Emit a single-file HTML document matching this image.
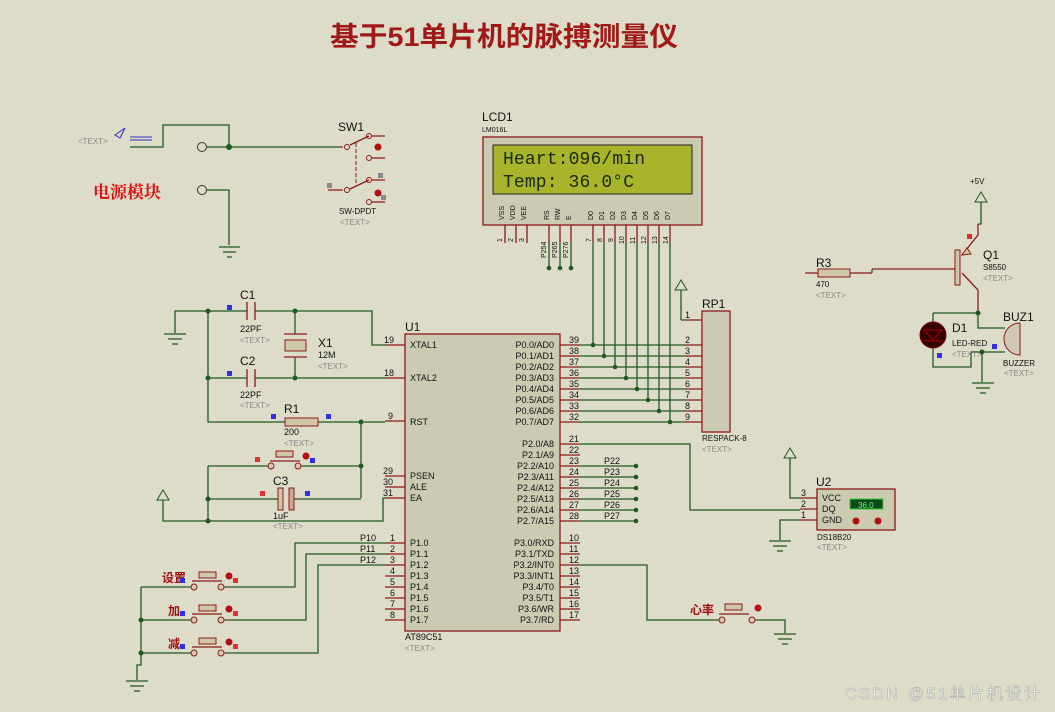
<!DOCTYPE html>
<html><head><meta charset="utf-8"><style>
html,body{margin:0;padding:0;background:#dcdcc9;}
svg{display:block;font-family:"Liberation Sans","Noto Sans CJK SC",sans-serif;}
.w{stroke:#1f5a1f;stroke-width:1.3;fill:none}
.p{stroke:#8b1a1a;stroke-width:1.3;fill:none}
.t{font-size:9px;fill:#111}
.g{font-size:8px;fill:#888}
.d{fill:#1f5a1f}
.rs{fill:#e03030}.bs{fill:#3030e0}
</style></head><body>
<svg width="1055" height="712" viewBox="0 0 1055 712">
<rect width="1055" height="712" fill="#dcdcc9"/>
<text x="330" y="46" font-size="27" font-weight="bold" fill="#a01818" font-family="'Liberation Sans','Noto Sans CJK SC',sans-serif" textLength="348" lengthAdjust="spacingAndGlyphs">基于51单片机的脉搏测量仪</text>

<!-- power -->
<text x="78" y="144" class="g">&lt;TEXT&gt;</text>
<path d="M115,135 L125,128 L120,138 Z M130,140 L152,140 M130,137 L152,137" stroke="#3030c0" fill="none"/>
<path class="w" d="M130,147 H163 V125 H229 V147 M207,147 H340 M207,190 H229 V245"/>
<circle cx="202" cy="147" r="4.5" fill="none" stroke="#333"/><circle cx="202" cy="190" r="4.5" fill="none" stroke="#333"/>
<circle cx="229" cy="147" r="3" class="d"/>
<path class="w" d="M219,247 H240 M223,252 H236 M227,257 H232"/>
<text x="93" y="198" font-size="17" font-weight="bold" fill="#e01010" font-family="'Noto Serif CJK SC',serif">电源模块</text>
<!-- SW1 -->
<text x="338" y="131" font-size="12" fill="#111">SW1</text>
<path class="p" d="M340,147 H343 M350,145 L369,136 M372,136 H385 M372,158 H385 M328,190 H343 M350,189 L369,180 M372,180 H385 M372,202 H385"/>
<circle cx="347" cy="147" r="2.5" fill="none" stroke="#8b1a1a"/><circle cx="369" cy="136" r="2.5" fill="none" stroke="#8b1a1a"/><circle cx="369" cy="158" r="2.5" fill="none" stroke="#8b1a1a"/>
<circle cx="347" cy="190" r="2.5" fill="none" stroke="#8b1a1a"/><circle cx="369" cy="180" r="2.5" fill="none" stroke="#8b1a1a"/><circle cx="369" cy="202" r="2.5" fill="none" stroke="#8b1a1a"/>
<path d="M356,143 V185" stroke="#8b1a1a" stroke-dasharray="4,2"/>
<circle cx="378" cy="147" r="3.5" fill="#b01010"/><circle cx="378" cy="193" r="3.5" fill="#b01010"/>
<rect x="378" y="173" width="5" height="5" fill="#888"/><rect x="327" y="183" width="5" height="5" fill="#888"/><rect x="381" y="195" width="5" height="5" fill="#888"/>
<text x="339" y="214" font-size="8" fill="#111">SW-DPDT</text><text x="340" y="225" class="g">&lt;TEXT&gt;</text>

<!-- crystal area -->
<path class="w" d="M175,333 V311 H247 M255,311 H372 V345 H385 M208,311 V422 H285 M318,422 H385 M208,378 H247 M255,378 H385 M295,311 V334 M295,357 V378 M361,422 V498 M208,466 H270 M299,466 H361 M208,499 H278 M294,499 H361 M163,500 V521 H383 V498 H385 M208,466 V521"/>
<path class="w" d="M164,334 H186 M168,339 H182 M172,344 H178"/>
<path d="M163,490 L157,500 H169 Z" fill="none" stroke="#1f5a1f"/>
<circle cx="208" cy="311" r="2.5" class="d"/><circle cx="208" cy="378" r="2.5" class="d"/><circle cx="295" cy="311" r="2.5" class="d"/><circle cx="295" cy="378" r="2.5" class="d"/><circle cx="361" cy="422" r="2.5" class="d"/><circle cx="361" cy="466" r="2.5" class="d"/><circle cx="208" cy="499" r="2.5" class="d"/><circle cx="208" cy="521" r="2.5" class="d"/>
<path class="p" d="M247,302 V320 M255,302 V320 M247,369 V387 M255,369 V387 M284,334 H307 M284,357 H307"/>
<rect x="285" y="340" width="21" height="11" fill="#cfc7a8" stroke="#8b1a1a"/>
<rect x="285" y="418" width="33" height="8" fill="#cfc7a8" stroke="#8b1a1a"/>
<rect x="278" y="488" width="5" height="22" fill="#cfc7a8" stroke="#8b1a1a"/><rect x="289" y="488" width="5" height="22" fill="#cfa898" stroke="#8b1a1a"/>
<rect x="276" y="451" width="17" height="6" fill="#cfc7a8" stroke="#8b1a1a"/><path class="p" d="M270,461 H300"/>
<circle cx="271" cy="466" r="3" fill="#d8c8b0" stroke="#8b1a1a"/><circle cx="298" cy="466" r="3" fill="#d8c8b0" stroke="#8b1a1a"/><circle cx="306" cy="456" r="3.5" fill="#b01010"/>
<text x="240" y="299" font-size="12" fill="#111">C1</text><text x="240" y="332" class="t">22PF</text><text x="240" y="343" class="g">&lt;TEXT&gt;</text>
<text x="240" y="365" font-size="12" fill="#111">C2</text><text x="240" y="398" class="t">22PF</text><text x="240" y="408" class="g">&lt;TEXT&gt;</text>
<text x="318" y="347" font-size="12" fill="#111">X1</text><text x="318" y="358" class="t">12M</text><text x="318" y="369" class="g">&lt;TEXT&gt;</text>
<text x="284" y="413" font-size="12" fill="#111">R1</text><text x="284" y="435" class="t">200</text><text x="284" y="446" class="g">&lt;TEXT&gt;</text>
<text x="273" y="485" font-size="12" fill="#111">C3</text><text x="273" y="519" class="t">1uF</text><text x="273" y="529" class="g">&lt;TEXT&gt;</text>
<rect x="227" y="305" width="5" height="5" class="bs"/><rect x="227" y="371" width="5" height="5" class="bs"/><rect x="271" y="414" width="5" height="5" class="bs"/><rect x="326" y="414" width="5" height="5" class="bs"/><rect x="255" y="457" width="5" height="5" class="rs"/><rect x="310" y="458" width="5" height="5" class="bs"/><rect x="260" y="491" width="5" height="5" class="rs"/><rect x="305" y="491" width="5" height="5" class="bs"/>

<!-- U1 -->
<rect x="405" y="334" width="155" height="297" fill="#cccbb2" stroke="#8b1a1a" stroke-width="1.3"/>
<text x="405" y="331" font-size="12" fill="#111">U1</text>
<text x="405" y="640" class="t">AT89C51</text><text x="405" y="651" class="g">&lt;TEXT&gt;</text>
<path class="p" d="M385,345H405M385,378H405M385,421H405M385,476H405M385,487H405M385,498H405M385,543H405M385,554H405M385,565H405M385,576H405M385,587H405M385,598H405M385,609H405M385,620H405
M560,345H580M560,356H580M560,367H580M560,378H580M560,389H580M560,400H580M560,411H580M560,422H580M560,444H580M560,455H580M560,466H580M560,477H580M560,488H580M560,499H580M560,510H580M560,521H580M560,543H580M560,554H580M560,565H580M560,576H580M560,587H580M560,598H580M560,609H580M560,620H580"/>
<g class="t">
<text x="384" y="343">19</text><text x="384" y="376">18</text><text x="388" y="419">9</text><text x="383" y="474">29</text><text x="383" y="485">30</text><text x="383" y="496">31</text>
<text x="390" y="541">1</text><text x="390" y="552">2</text><text x="390" y="563">3</text><text x="390" y="574">4</text><text x="390" y="585">5</text><text x="390" y="596">6</text><text x="390" y="607">7</text><text x="390" y="618">8</text>
<text x="410" y="348">XTAL1</text><text x="410" y="381">XTAL2</text><text x="410" y="425">RST</text><text x="410" y="479">PSEN</text><text x="410" y="490">ALE</text><text x="410" y="501">EA</text>
<text x="410" y="546">P1.0</text><text x="410" y="557">P1.1</text><text x="410" y="568">P1.2</text><text x="410" y="579">P1.3</text><text x="410" y="590">P1.4</text><text x="410" y="601">P1.5</text><text x="410" y="612">P1.6</text><text x="410" y="623">P1.7</text>
<g text-anchor="end">
<text x="554" y="348">P0.0/AD0</text><text x="554" y="359">P0.1/AD1</text><text x="554" y="370">P0.2/AD2</text><text x="554" y="381">P0.3/AD3</text><text x="554" y="392">P0.4/AD4</text><text x="554" y="403">P0.5/AD5</text><text x="554" y="414">P0.6/AD6</text><text x="554" y="425">P0.7/AD7</text>
<text x="554" y="447">P2.0/A8</text><text x="554" y="458">P2.1/A9</text><text x="554" y="469">P2.2/A10</text><text x="554" y="480">P2.3/A11</text><text x="554" y="491">P2.4/A12</text><text x="554" y="502">P2.5/A13</text><text x="554" y="513">P2.6/A14</text><text x="554" y="524">P2.7/A15</text>
<text x="554" y="546">P3.0/RXD</text><text x="554" y="557">P3.1/TXD</text><text x="554" y="568">P3.2/INT0</text><text x="554" y="579">P3.3/INT1</text><text x="554" y="590">P3.4/T0</text><text x="554" y="601">P3.5/T1</text><text x="554" y="612">P3.6/WR</text><text x="554" y="623">P3.7/RD</text>
</g>
<text x="569" y="343">39</text><text x="569" y="354">38</text><text x="569" y="365">37</text><text x="569" y="376">36</text><text x="569" y="387">35</text><text x="569" y="398">34</text><text x="569" y="409">33</text><text x="569" y="420">32</text>
<text x="569" y="442">21</text><text x="569" y="453">22</text><text x="569" y="464">23</text><text x="569" y="475">24</text><text x="569" y="486">25</text><text x="569" y="497">26</text><text x="569" y="508">27</text><text x="569" y="519">28</text>
<text x="569" y="541">10</text><text x="569" y="552">11</text><text x="569" y="563">12</text><text x="569" y="574">13</text><text x="569" y="585">14</text><text x="569" y="596">15</text><text x="569" y="607">16</text><text x="569" y="618">17</text>
<text x="604" y="464">P22</text><text x="604" y="475">P23</text><text x="604" y="486">P24</text><text x="604" y="497">P25</text><text x="604" y="508">P26</text><text x="604" y="519">P27</text>
<text x="360" y="541">P10</text><text x="360" y="552">P11</text><text x="360" y="563">P12</text>
</g>
<path class="w" d="M580,466H636M580,477H636M580,488H636M580,499H636M580,510H636M580,521H636"/>
<circle cx="636" cy="466" r="2.3" class="d"/><circle cx="636" cy="477" r="2.3" class="d"/><circle cx="636" cy="488" r="2.3" class="d"/><circle cx="636" cy="499" r="2.3" class="d"/><circle cx="636" cy="510" r="2.3" class="d"/><circle cx="636" cy="521" r="2.3" class="d"/>

<!-- P0 bus -->
<path class="w" d="M580,345H685M580,356H685M580,367H685M580,378H685M580,389H685M580,400H685M580,411H685M580,422H685
M593,243V345M604,243V356M615,243V367M626,243V378M637,243V389M648,243V400M659,243V411M670,243V422"/>
<g class="d"><circle cx="593" cy="345" r="2.3"/><circle cx="604" cy="356" r="2.3"/><circle cx="615" cy="367" r="2.3"/><circle cx="626" cy="378" r="2.3"/><circle cx="637" cy="389" r="2.3"/><circle cx="648" cy="400" r="2.3"/><circle cx="659" cy="411" r="2.3"/><circle cx="670" cy="422" r="2.3"/></g>

<!-- LCD -->
<text x="482" y="121" font-size="12" fill="#111">LCD1</text><text x="482" y="132" font-size="7" fill="#111">LM016L</text>
<rect x="483" y="137" width="219" height="88" fill="#cccbb2" stroke="#8b1a1a" stroke-width="1.3"/>
<rect x="493" y="145" width="199" height="49" fill="#a8b42a" stroke="#222"/>
<text x="503" y="164" font-family="'Liberation Mono',monospace" font-size="18" fill="#1a2a0a" textLength="142">Heart:096/min</text>
<text x="503" y="187" font-family="'Liberation Mono',monospace" font-size="18" fill="#1a2a0a" textLength="131">Temp: 36.0°C</text>
<g font-size="7" fill="#111">
<text transform="translate(504,220) rotate(-90)">VSS</text><text transform="translate(515,220) rotate(-90)">VDD</text><text transform="translate(526,220) rotate(-90)">VEE</text>
<text transform="translate(549,220) rotate(-90)">RS</text><text transform="translate(560,220) rotate(-90)">RW</text><text transform="translate(571,220) rotate(-90)">E</text>
<text transform="translate(593,220) rotate(-90)">D0</text><text transform="translate(604,220) rotate(-90)">D1</text><text transform="translate(615,220) rotate(-90)">D2</text><text transform="translate(626,220) rotate(-90)">D3</text><text transform="translate(637,220) rotate(-90)">D4</text><text transform="translate(648,220) rotate(-90)">D5</text><text transform="translate(659,220) rotate(-90)">D6</text><text transform="translate(670,220) rotate(-90)">D7</text>
<text transform="translate(502,242) rotate(-90)">1</text><text transform="translate(513,242) rotate(-90)">2</text><text transform="translate(524,242) rotate(-90)">3</text>
<text transform="translate(546,258) rotate(-90)">P254</text><text transform="translate(557,258) rotate(-90)">P265</text><text transform="translate(568,258) rotate(-90)">P276</text>
<text transform="translate(591,242) rotate(-90)">7</text><text transform="translate(602,242) rotate(-90)">8</text><text transform="translate(613,242) rotate(-90)">9</text><text transform="translate(624,244) rotate(-90)">10</text><text transform="translate(635,244) rotate(-90)">11</text><text transform="translate(646,244) rotate(-90)">12</text><text transform="translate(657,244) rotate(-90)">13</text><text transform="translate(668,244) rotate(-90)">14</text>
</g>
<path class="p" d="M505,225V243M516,225V243M527,225V243M549,225V243M560,225V243M571,225V243M593,225V243M604,225V243M615,225V243M626,225V243M637,225V243M648,225V243M659,225V243M670,225V243"/>
<path class="w" d="M549,243V268M560,243V268M571,243V268"/>
<circle cx="549" cy="268" r="2.3" class="d"/><circle cx="560" cy="268" r="2.3" class="d"/><circle cx="571" cy="268" r="2.3" class="d"/>

<!-- RP1 -->
<rect x="702" y="311" width="28" height="121" fill="#cccbb2" stroke="#8b1a1a" stroke-width="1.3"/>
<text x="702" y="308" font-size="12" fill="#111">RP1</text><text x="702" y="441" font-size="8" fill="#111">RESPACK-8</text><text x="702" y="452" class="g">&lt;TEXT&gt;</text>
<path class="p" d="M685,320H702M685,345H702M685,356H702M685,367H702M685,378H702M685,389H702M685,400H702M685,411H702M685,422H702"/>
<path class="w" d="M681,320V290 M685,320H681"/><path d="M681,280 L675,290 H687 Z" fill="none" stroke="#1f5a1f"/>
<g class="t"><text x="685" y="318">1</text><text x="685" y="343">2</text><text x="685" y="354">3</text><text x="685" y="365">4</text><text x="685" y="376">5</text><text x="685" y="387">6</text><text x="685" y="398">7</text><text x="685" y="409">8</text><text x="685" y="420">9</text></g>

<!-- U2 DS18B20 -->
<path class="w" d="M580,444H690V510H800 M790,458V498H800 M780,540V520H800 M580,565H647V620H722 M755,620H785V633"/>
<path d="M790,448 L784,458 H796 Z" fill="none" stroke="#1f5a1f"/>
<path class="w" d="M769,541H791M773,546H787M777,551H783 M774,634H796M778,639H792M782,644H788"/>
<rect x="817" y="489" width="78" height="41" fill="#cccbb2" stroke="#8b1a1a" stroke-width="1.3"/>
<path class="p" d="M800,498H817M800,509H817M800,520H817"/>
<rect x="850" y="499" width="33" height="10" fill="#0a4a1a" stroke="#3c3"/><text x="858" y="508" font-size="8" fill="#6f6">36.0</text>
<circle cx="856" cy="521" r="3.5" fill="#b01010"/><circle cx="878" cy="521" r="3.5" fill="#b01010"/>
<g class="t"><text x="822" y="501">VCC</text><text x="822" y="512">DQ</text><text x="822" y="523">GND</text><text x="801" y="496">3</text><text x="801" y="507">2</text><text x="801" y="518">1</text></g>
<text x="816" y="486" font-size="12" fill="#111">U2</text><text x="817" y="540" font-size="8" fill="#111">DS18B20</text><text x="817" y="550" class="g">&lt;TEXT&gt;</text>

<!-- 心率 switch -->
<text x="690" y="614" font-size="12" font-weight="bold" fill="#a01010">心率</text>
<rect x="725" y="604" width="17" height="6" fill="#cfc7a8" stroke="#8b1a1a"/><path class="p" d="M719,614H749"/>
<circle cx="722" cy="620" r="3" fill="#d8c8b0" stroke="#8b1a1a"/><circle cx="752" cy="620" r="3" fill="#d8c8b0" stroke="#8b1a1a"/><circle cx="758" cy="608" r="3.5" fill="#b01010"/>

<!-- right transistor section -->
<text x="970" y="184" font-size="8" fill="#111">+5V</text>
<path d="M981,192 L975,202 H987 Z" fill="none" stroke="#1f5a1f"/>
<path class="w" d="M981,202V224H978"/>
<path class="p" d="M978,224 V235 L962,255 M962,273 L978,290 V313"/>
<path d="M962,255 L967,248 L971,254 Z" fill="#cfc7a8" stroke="#8b1a1a"/>
<rect x="955" y="250" width="5" height="35" fill="#cfc7a8" stroke="#8b1a1a"/>
<rect x="967" y="234" width="5" height="5" class="rs"/>
<text x="983" y="259" font-size="12" fill="#111">Q1</text><text x="983" y="270" font-size="8" fill="#111">S8550</text><text x="983" y="281" class="g">&lt;TEXT&gt;</text>
<path class="p" d="M805,273H818 M850,273H872 M872,269 H955"/><path class="w" d="M872,273V269"/>
<rect x="818" y="269" width="32" height="8" fill="#cfc7a8" stroke="#8b1a1a"/>
<text x="816" y="267" font-size="12" fill="#111">R3</text><text x="816" y="287" font-size="8" fill="#111">470</text><text x="816" y="298" class="g">&lt;TEXT&gt;</text>
<path class="w" d="M978,313 V328 H1005 M933,313 H978 M933,313 V322 M933,348 V367 H971 V352 H982 V382 M982,352 H1005"/>
<circle cx="978" cy="313" r="2.5" class="d"/><circle cx="982" cy="352" r="2.5" class="d"/>
<circle cx="933" cy="335" r="13" fill="#300" stroke="#700"/>
<path d="M924,330 H942 L933,340 Z M924,341 H942" stroke="#a00" fill="none"/>
<path d="M1020,323 A16,16 0 0 0 1020,355 Z" fill="#d0c8b0" stroke="#8b1a1a"/>
<rect x="937" y="353" width="5" height="5" class="bs"/><rect x="992" y="344" width="5" height="5" class="bs"/>
<text x="952" y="332" font-size="12" fill="#111">D1</text><text x="952" y="346" font-size="8" fill="#111">LED-RED</text><text x="952" y="357" class="g">&lt;TEXT&gt;</text>
<text x="1003" y="321" font-size="12" fill="#111">BUZ1</text><text x="1003" y="366" font-size="8" fill="#111">BUZZER</text><text x="1004" y="376" class="g">&lt;TEXT&gt;</text>
<path class="w" d="M972,383H994M976,388H990M980,393H986"/>

<!-- bottom switches -->
<path class="w" d="M141,587 V665 H137 V680 M141,587 H191 M141,620 H191 M141,653 H191 M224,587 H295 V543 H385 M224,620 H306 V554 H385 M224,653 H318 V565 H385"/>
<path class="w" d="M126,681H148M130,686H144M134,691H140"/>
<circle cx="141" cy="620" r="2.5" class="d"/><circle cx="141" cy="653" r="2.5" class="d"/>
<g fill="#a01010" font-size="12" font-weight="bold"><text x="162" y="582">设置</text><text x="168" y="615">加</text><text x="168" y="648">减</text></g>
<g>
<rect x="199" y="572" width="17" height="6" fill="#cfc7a8" stroke="#8b1a1a"/><path class="p" d="M192,581H222"/><circle cx="194" cy="587" r="3" fill="#d8c8b0" stroke="#8b1a1a"/><circle cx="221" cy="587" r="3" fill="#d8c8b0" stroke="#8b1a1a"/><circle cx="229" cy="576" r="3.5" fill="#b01010"/><rect x="180" y="578" width="5" height="5" class="bs"/><rect x="233" y="578" width="5" height="5" class="rs"/>
<rect x="199" y="605" width="17" height="6" fill="#cfc7a8" stroke="#8b1a1a"/><path class="p" d="M192,614H222"/><circle cx="194" cy="620" r="3" fill="#d8c8b0" stroke="#8b1a1a"/><circle cx="221" cy="620" r="3" fill="#d8c8b0" stroke="#8b1a1a"/><circle cx="229" cy="609" r="3.5" fill="#b01010"/><rect x="180" y="611" width="5" height="5" class="bs"/><rect x="233" y="611" width="5" height="5" class="rs"/>
<rect x="199" y="638" width="17" height="6" fill="#cfc7a8" stroke="#8b1a1a"/><path class="p" d="M192,647H222"/><circle cx="194" cy="653" r="3" fill="#d8c8b0" stroke="#8b1a1a"/><circle cx="221" cy="653" r="3" fill="#d8c8b0" stroke="#8b1a1a"/><circle cx="229" cy="642" r="3.5" fill="#b01010"/><rect x="180" y="644" width="5" height="5" class="bs"/><rect x="233" y="644" width="5" height="5" class="rs"/>
</g>

<text x="845" y="699" font-size="16" fill="#f4f4f0" stroke="#999" stroke-width="0.4" textLength="195">CSDN @51单片机设计</text>
</svg>
</body></html>
